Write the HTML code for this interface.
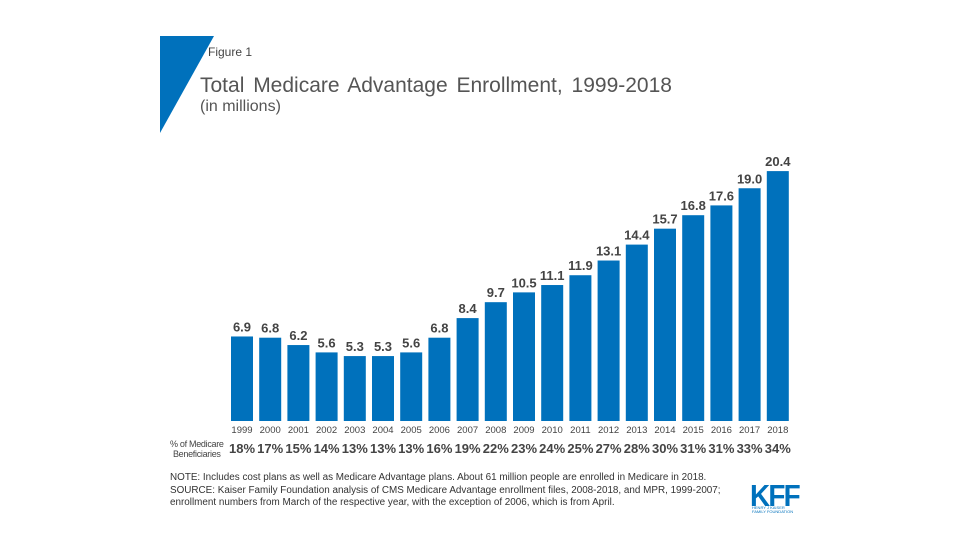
<!DOCTYPE html>
<html><head><meta charset="utf-8"><style>
body{margin:0;background:#fff;font-family:"Liberation Sans",sans-serif;}
#w{position:relative;width:960px;height:540px;overflow:hidden;}
.t{position:absolute;white-space:nowrap;}
</style></head><body>
<div id="w">
<svg width="960" height="540" style="position:absolute;left:0;top:0">
<polygon points="160,36 214,36 160,133" fill="#0071bc"/>
<g id="bars"></g>
</svg>
<div class="t" style="left:208px;top:45px;font-size:12px;color:#444">Figure 1</div>
<div class="t" style="left:200px;top:74px;font-size:21px;color:#555;word-spacing:3px">Total Medicare Advantage Enrollment, 1999-2018</div>
<div class="t" style="left:200px;top:98px;font-size:16px;color:#555">(in millions)</div>
<div class="t" style="left:170px;top:439px;font-size:9px;line-height:10px;color:#444;text-align:center;letter-spacing:-0.3px">% of Medicare<br>Beneficiaries</div>
<div class="t" style="left:170px;top:472px;font-size:9.9px;line-height:12.5px;color:#333">NOTE:  Includes cost plans as well as Medicare Advantage plans. About 61 million people are enrolled in Medicare in 2018.<br>SOURCE: Kaiser Family Foundation analysis of CMS Medicare Advantage enrollment files, 2008-2018, and MPR, 1999-2007;<br>enrollment numbers from March of the respective year, with the exception of 2006, which is from April.</div>
<div class="t" style="left:750px;top:478px;font-size:31px;font-weight:bold;color:#0071bc;letter-spacing:-2px;transform:scaleX(0.9);transform-origin:left">KFF</div>
<div class="t" style="left:752px;top:506px;font-size:4px;line-height:4px;color:#0071bc">HENRY J KAISER<br>FAMILY FOUNDATION</div>
</div>
<script>
const years=["1999","2000","2001","2002","2003","2004","2005","2006","2007","2008","2009","2010","2011","2012","2013","2014","2015","2016","2017","2018"];
const enrollment=[6.9,6.8,6.2,5.6,5.3,5.3,5.6,6.8,8.4,9.7,10.5,11.1,11.9,13.1,14.4,15.7,16.8,17.6,19.0,20.4];
const pctBeneficiaries=["18%","17%","15%","14%","13%","13%","13%","16%","19%","22%","23%","24%","25%","27%","28%","30%","31%","31%","33%","34%"];
const NS="http://www.w3.org/2000/svg";
const g=document.getElementById('bars');
const x0=231,step=28.2,bw=22,base=421,scale=12.25;
const xs=i=>x0+i*step;
const ys=v=>base-v*scale;
function txt(x,y,s,size,weight,fill){const t=document.createElementNS(NS,'text');t.setAttribute('x',x);t.setAttribute('y',y);t.setAttribute('text-anchor','middle');t.setAttribute('font-size',size);t.setAttribute('font-weight',weight);t.setAttribute('fill',fill);t.setAttribute('font-family','Liberation Sans, sans-serif');t.textContent=s;g.appendChild(t);return t;}
enrollment.forEach((v,i)=>{
const r=document.createElementNS(NS,'rect');
r.setAttribute('x',xs(i));r.setAttribute('y',ys(v));r.setAttribute('width',bw);r.setAttribute('height',v*scale);r.setAttribute('fill','#0071bc');


g.appendChild(r);
const l=txt(xs(i)+bw/2,ys(v)-5,v.toFixed(1),13,'bold','#444');


const y=txt(xs(i)+bw/2,433,years[i],9.5,'normal','#444');


const p=txt(xs(i)+bw/2,453,pctBeneficiaries[i],13,'bold','#444');


});
</script>
</body></html>
